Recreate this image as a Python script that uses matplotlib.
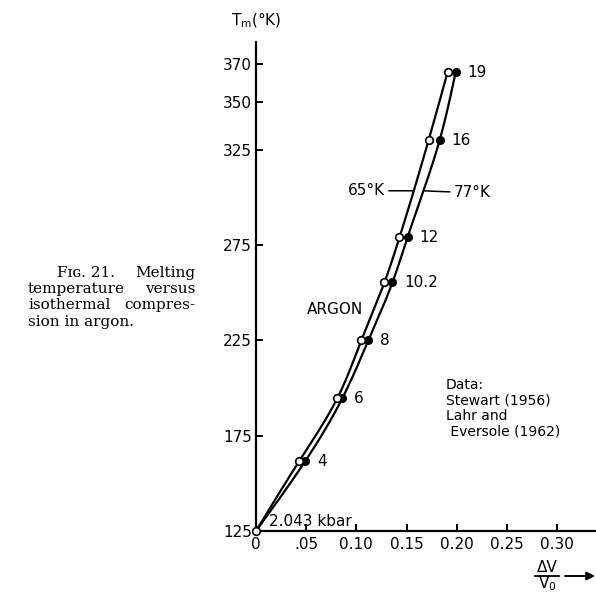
import numpy as np
import matplotlib
matplotlib.use('Agg')
import matplotlib.pyplot as plt
from matplotlib.lines import Line2D

# ---------------- data ----------------
pressure_labels = ['4', '6', '8', '10.2', '12', '16', '19']
temp_K = [161.6, 194.6, 225.0, 255.4, 279.0, 330.0, 365.8]
dv_65K = [0.043, 0.081, 0.105, 0.128, 0.143, 0.172, 0.191]
dv_77K = [0.049, 0.086, 0.112, 0.136, 0.151, 0.183, 0.199]
origin_T = 125.0
origin_dv = 0.0
origin_label = '2.043 kbar'
yticks = [125, 175, 225, 275, 325, 350, 370]
xticks = [0, 0.05, 0.10, 0.15, 0.20, 0.25, 0.30]
xticklabels = ['0', '.05', '0.10', '0.15', '0.20', '0.25', '0.30']
series_labels = ['65°K', '77°K']
data_note = ['Data:', 'Stewart (1956)', 'Lahr and', ' Eversole (1962)']
caption_lines = [('Fɪɢ. 21.', 'Melting'), ('temperature', 'versus'),
                 ('isothermal', 'compres-'), ('sion in argon.', '')]

W, H = 596, 592
fig = plt.figure(figsize=(W / 100, H / 100), dpi=100)
fig.patch.set_facecolor('white')


def fp(x, y):
    """figure-fraction from top-left pixel coords"""
    return x / W, 1 - y / H


def spline(xk, yk, xs):
    xk = np.asarray(xk, float); yk = np.asarray(yk, float)
    n = len(xk); h = np.diff(xk)
    A = np.zeros((n, n)); b = np.zeros(n)
    A[0, 0] = 1; A[-1, -1] = 1
    for i in range(1, n - 1):
        A[i, i - 1] = h[i - 1]; A[i, i] = 2 * (h[i - 1] + h[i]); A[i, i + 1] = h[i]
        b[i] = 3 * ((yk[i + 1] - yk[i]) / h[i] - (yk[i] - yk[i - 1]) / h[i - 1])
    c = np.linalg.solve(A, b)
    out = np.empty_like(xs)
    for j, x in enumerate(xs):
        i = min(max(np.searchsorted(xk, x) - 1, 0), n - 2)
        t = x - xk[i]
        bb = (yk[i + 1] - yk[i]) / h[i] - h[i] * (2 * c[i] + c[i + 1]) / 3
        d = (c[i + 1] - c[i]) / (3 * h[i])
        out[j] = yk[i] + bb * t + c[i] * t ** 2 + d * t ** 3
    return out


left, right = 256, 596
bottom, top = 531, 42
ax = fig.add_axes([left / W, 1 - bottom / H, (right - left) / W, (bottom - top) / H])
ax.set_xlim(0, 0.30 * (right - left) / 301.0)
ax.set_ylim(125, 125 + (bottom - top) / 1.906)

for s in ['top', 'right']:
    ax.spines[s].set_visible(False)
for s in ['left', 'bottom']:
    ax.spines[s].set_linewidth(1.6)

ax.set_yticks(yticks)
ax.set_xticks(xticks)
ax.set_xticklabels(xticklabels)
ax.tick_params(direction='in', length=5, width=1.4, labelsize=11, pad=4)
ax.tick_params(axis='y', pad=3)

T_all = [origin_T] + temp_K
Ts = np.linspace(origin_T, temp_K[-1], 300)
for dvs in (dv_65K, dv_77K):
    curve = spline(T_all, [origin_dv] + dvs, Ts)
    ax.plot(curve, Ts, color='black', lw=1.6, solid_capstyle='round')

ax.plot(dv_77K, temp_K, 'o', color='black', ms=5.5, zorder=5)
ax.plot(dv_65K + [origin_dv], temp_K + [origin_T], 'o', mfc='white', mec='black',
        ms=5.5, mew=1.2, zorder=6, clip_on=False)

for lab, x, y in zip(pressure_labels, dv_77K, temp_K):
    ax.annotate(lab, (x, y), xytext=(8.5, 0), textcoords='offset points',
                ha='left', va='center', fontsize=11)

ax.annotate(origin_label, (origin_dv, origin_T), xytext=(9.5, 1.5),
            textcoords='offset points', ha='left', va='bottom', fontsize=11)

# series leader labels
T_lab = 303.5
x65 = spline(T_all, [origin_dv] + dv_65K, np.array([T_lab]))[0]
x77 = spline(T_all, [origin_dv] + dv_77K, np.array([T_lab]))[0]
ax.annotate(series_labels[0], (x65, T_lab), xytext=(-21, 0), textcoords='offset points',
            ha='right', va='center', fontsize=11,
            arrowprops=dict(arrowstyle='-', lw=1.1, shrinkA=1, shrinkB=0))
ax.annotate(series_labels[1], (x77, T_lab), xytext=(22, -1.5), textcoords='offset points',
            ha='left', va='center', fontsize=11,
            arrowprops=dict(arrowstyle='-', lw=1.1, shrinkA=1, shrinkB=0))

fig.text(*fp(335, 309), 'ARGON', ha='center', va='center', fontsize=11)

for i, line in enumerate(data_note):
    fig.text(*fp(446, 385 + 15.4 * i), line, ha='left', va='center', fontsize=10)

# axis titles
fig.text(*fp(256, 20), 'T$_{\\mathrm{m}}$(°K)', ha='center', va='center', fontsize=11)
fig.text(*fp(547, 567), 'ΔV', ha='center', va='center', fontsize=11)
fig.text(*fp(547, 584), 'V$_{\\mathrm{0}}$', ha='center', va='center', fontsize=11)
fig.add_artist(Line2D([535 / W, 559 / W], [1 - 576 / H, 1 - 576 / H],
                      color='black', lw=1.3))
ax.annotate('', xy=(W - 1, H - 576), xycoords='figure pixels',
            xytext=(565, H - 576), textcoords='figure pixels',
            arrowprops=dict(arrowstyle='-|>', lw=1.4, color='black',
                            mutation_scale=12, shrinkA=0, shrinkB=0))

# caption (justified)
cap_l, cap_r, cap_ind = 28, 195, 57
for i, (a, b) in enumerate(caption_lines):
    y = 273 + 16.2 * i
    xl = cap_ind if i == 0 else cap_l
    fig.text(*fp(xl, y), a, ha='left', va='center', fontsize=11, family='DejaVu Serif')
    if b:
        fig.text(*fp(cap_r, y), b, ha='right', va='center', fontsize=11, family='DejaVu Serif')

fig.savefig('out.png', dpi=100, facecolor='white')
